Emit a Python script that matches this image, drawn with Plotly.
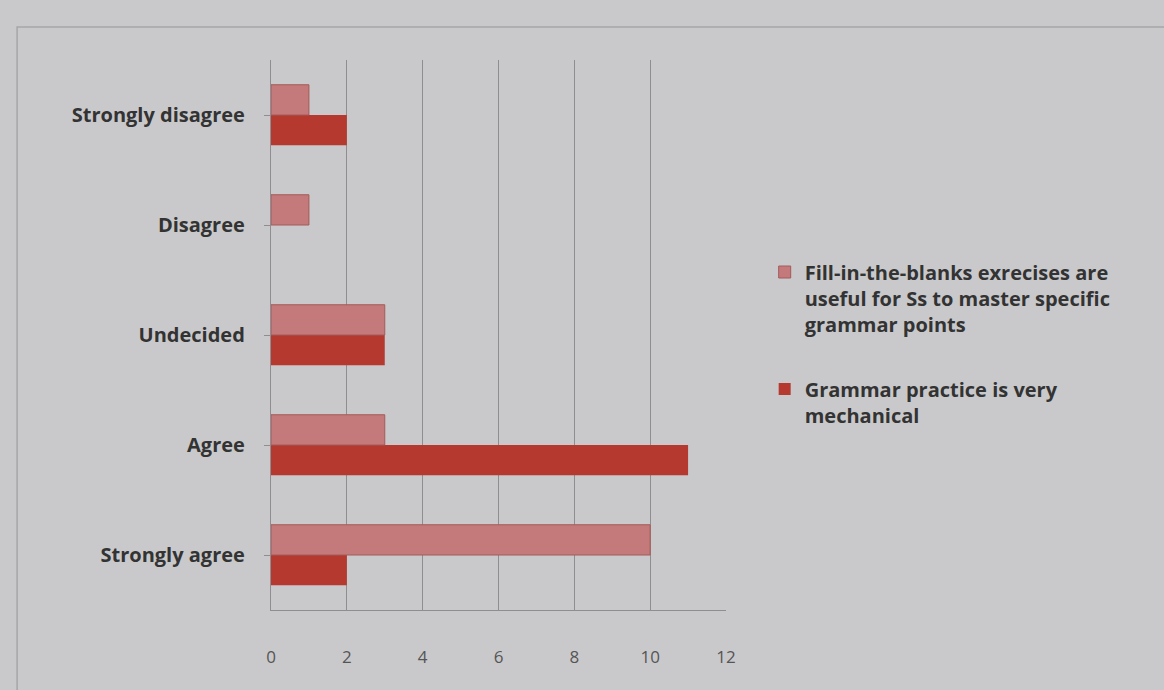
import plotly.graph_objects as go

categories = ["Strongly agree", "Agree", "Undecided", "Disagree", "Strongly disagree"]
fill_blanks = [10, 3, 3, 1, 1]
mechanical = [2, 11, 3, 0, 2]
x_ticks = [0, 2, 4, 6, 8, 10, 12]

name_fill = "Fill-in-the-blanks exrecises are<br>useful for Ss to master specific<br>grammar points"
name_mech = "Grammar practice is very<br>mechanical"

fig = go.Figure()
fig.add_trace(go.Bar(
    y=categories, x=mechanical, orientation="h", name=name_mech,
    marker=dict(color="#b5392f", line=dict(width=0)),
    legendrank=2, legendgroup="b",
))
fig.add_trace(go.Bar(
    y=categories, x=fill_blanks, orientation="h", name=name_fill,
    marker=dict(color="#c47a7a", line=dict(color="#a35a5a", width=1)),
    legendrank=1, legendgroup="a",
))

fig.update_layout(
    width=1164, height=690,
    margin=dict(l=271, r=438, t=60, b=80),
    paper_bgcolor="#c9c9cb",
    plot_bgcolor="#c9c9cb",
    barmode="group",
    bargap=0.45,
    bargroupgap=0.0,
    font=dict(family="Open Sans", color="#3a3a3a"),
    showlegend=True,
    legend=dict(
        x=1.085, y=0.65, xanchor="left", yanchor="top",
        font=dict(size=20, family="Open Sans", color="#333333", weight="bold"),
        bgcolor="rgba(0,0,0,0)",
        tracegroupgap=36,
        itemwidth=30,
        valign="top",
    ),
    shapes=[dict(
        type="rect", xref="paper", yref="paper",
        x0=-0.558, x1=3.0, y0=-0.3, y1=1.06,
        line=dict(color="#a6a6a8", width=1.5), layer="below",
    )],
)
fig.update_xaxes(
    range=[0, 12], tickvals=x_ticks, showgrid=True, gridcolor="#8e8e90", gridwidth=1.3,
    zeroline=False, showline=True, linecolor="#8e8e90", linewidth=1.3,
    ticks="", tickfont=dict(size=17, color="#555555"), ticklabelstandoff=31,
    mirror=False,
)
fig.update_yaxes(
    categoryorder="array", categoryarray=categories,
    showline=True, linecolor="#8e8e90", linewidth=1.3, ticks="outside",
    ticklen=6, tickcolor="#8e8e90",
    tickfont=dict(size=20, color="#333333", weight="bold"), ticklabelstandoff=15,
    showgrid=False,
)

fig.write_html("out.html")
